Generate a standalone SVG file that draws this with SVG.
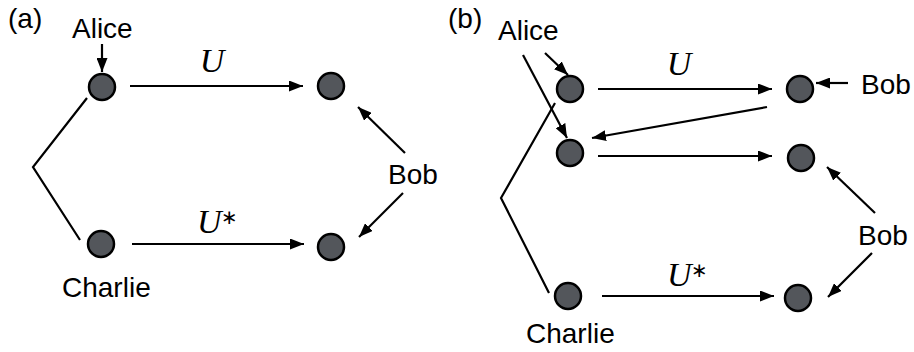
<svg xmlns="http://www.w3.org/2000/svg" width="914" height="352" viewBox="0 0 914 352">
  <defs>
    <marker id="arrowhead" markerUnits="userSpaceOnUse" markerWidth="14" markerHeight="11" refX="14" refY="5.5" orient="auto">
      <path d="M0,0 L14,5.5 L0,11 z" fill="#000"/>
    </marker>
    <style>
      .bg { fill: #ffffff; }
      .node { fill: #53565b; stroke: #000; stroke-width: 2.5; }
      .edge { stroke: #000; stroke-width: 2.2; fill: none; }
      .arrow { stroke: #000; stroke-width: 2.2; fill: none; marker-end: url(#arrowhead); }
      .label { font-family: "Liberation Sans", Arial, sans-serif; font-size: 28px; fill: #000; }
      .math { font-family: "Liberation Serif", "Times New Roman", serif; font-style: italic; font-size: 34px; fill: #000; }
      .sup { font-family: "DejaVu Sans", sans-serif; font-size: 20px; fill: #000; }
    </style>
  </defs>

  <rect class="bg" x="0" y="0" width="914" height="352"/>

  <!-- panel (a) -->
  <g id="panel-a-title"><text class="label" x="8" y="28">(a)</text></g>

  <g id="a-alice-node"><circle class="node" cx="102" cy="87" r="13"/></g>
  <g id="a-bob-top-node"><circle class="node" cx="331" cy="86" r="13"/></g>
  <g id="a-charlie-node"><circle class="node" cx="101" cy="244" r="13"/></g>
  <g id="a-bob-bottom-node"><circle class="node" cx="331" cy="247" r="13"/></g>

  <g id="a-labels">
    <text class="label" x="72" y="38">Alice</text>
    <text class="label" x="62" y="297">Charlie</text>
    <text class="label" x="388" y="184">Bob</text>
    <text class="math" x="212" y="72" text-anchor="middle">U</text>
    <text class="math" x="197" y="233">U</text>
    <text class="sup" x="221" y="224">∗</text>
  </g>

  <g id="a-connectors">
    <polyline class="edge" points="87,98 33,167 80,240"/>
    <line class="arrow" x1="102" y1="44" x2="102" y2="72"/>
    <line class="arrow" x1="130" y1="86" x2="303" y2="86"/>
    <line class="arrow" x1="132" y1="244" x2="304" y2="244"/>
    <line class="arrow" x1="405" y1="153" x2="358" y2="107"/>
    <line class="arrow" x1="403" y1="193" x2="359" y2="237"/>
  </g>

  <!-- panel (b) -->
  <g id="panel-b-title"><text class="label" x="448" y="28">(b)</text></g>

  <g id="b-alice-node-1"><circle class="node" cx="570" cy="89" r="13"/></g>
  <g id="b-alice-node-2"><circle class="node" cx="570" cy="153" r="13"/></g>
  <g id="b-charlie-node"><circle class="node" cx="568" cy="296" r="13"/></g>
  <g id="b-bob-node-1"><circle class="node" cx="800" cy="89" r="13"/></g>
  <g id="b-bob-node-2"><circle class="node" cx="801" cy="158" r="13"/></g>
  <g id="b-bob-node-3"><circle class="node" cx="798" cy="298" r="13"/></g>

  <g id="b-labels">
    <text class="label" x="498" y="40">Alice</text>
    <text class="label" x="526" y="343">Charlie</text>
    <text class="label" x="861" y="94">Bob</text>
    <text class="label" x="858" y="245">Bob</text>
    <text class="math" x="679" y="75" text-anchor="middle">U</text>
    <text class="math" x="667" y="286">U</text>
    <text class="sup" x="691" y="277">∗</text>
  </g>

  <g id="b-connectors">
    <polyline class="edge" points="555,103 501,198 549,293"/>
    <line class="arrow" x1="545" y1="53" x2="568" y2="75"/>
    <line class="arrow" x1="523" y1="55" x2="567" y2="138"/>
    <line class="arrow" x1="598" y1="89" x2="772" y2="89"/>
    <line class="arrow" x1="767" y1="107" x2="592" y2="138"/>
    <line class="arrow" x1="598" y1="156" x2="772" y2="156"/>
    <line class="arrow" x1="602" y1="296" x2="774" y2="296"/>
    <line class="arrow" x1="848" y1="83" x2="816" y2="83"/>
    <line class="arrow" x1="875" y1="213" x2="827" y2="167"/>
    <line class="arrow" x1="872" y1="253" x2="828" y2="297"/>
  </g>
</svg>
